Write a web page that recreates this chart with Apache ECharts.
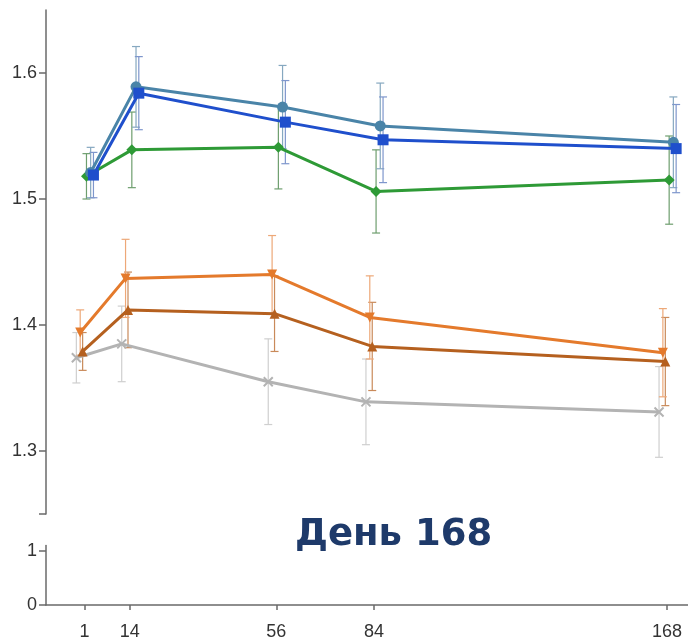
<!DOCTYPE html>
<html><head><meta charset="utf-8">
<script src="https://cdn.jsdelivr.net/npm/echarts@6/dist/echarts.min.js"></script>
<style>html,body{margin:0;padding:0;background:#fff}#c{width:688px;height:643px}</style>
</head><body><div id="c"></div>
<script>
// Days of measurement (x axis)
const days = [1, 14, 56, 84, 168];
const xTickLabels = [1, 14, 56, 84, 168];
const upperTickLabels = [1.3, 1.4, 1.5, 1.6];
const lowerTickLabels = [0, 1];
const titleText = 'День 168';

// Series means and error (±) values
const tealVals   = [1.521, 1.589, 1.573, 1.558, 1.545];
const tealErr    = [0.020, 0.032, 0.033, 0.034, 0.036];
const blueVals   = [1.519, 1.584, 1.561, 1.547, 1.540];
const blueErr    = [0.018, 0.029, 0.033, 0.034, 0.035];
const greenVals  = [1.518, 1.539, 1.541, 1.506, 1.515];
const greenErr   = [0.018, 0.030, 0.033, 0.033, 0.035];
const orangeVals = [1.394, 1.437, 1.440, 1.406, 1.378];
const orangeErr  = [0.018, 0.031, 0.031, 0.033, 0.035];
const brownVals  = [1.379, 1.412, 1.409, 1.383, 1.371];
const brownErr   = [0.015, 0.030, 0.030, 0.035, 0.035];
const grayVals   = [1.374, 1.385, 1.355, 1.339, 1.331];
const grayErr    = [0.020, 0.030, 0.034, 0.034, 0.036];

// horizontal dodge (in days) so overlapping groups are separated
const dodge = { gray: -2.3, orange: -1.2, brown: -0.5, green: 0.6, teal: 1.8, blue: 2.6 };

const groups = [
  { key: 'gray',   vals: grayVals,   err: grayErr,   color: '#b3b3b3', bar: '#cfcfcf', symbol: 'path://M0,0 L10,10 M10,0 L0,10 M0,0', size: 9 },
  { key: 'brown',  vals: brownVals,  err: brownErr,  color: '#b5601f', bar: '#c98a5a', symbol: 'triangle', size: 10 },
  { key: 'orange', vals: orangeVals, err: orangeErr, color: '#e47a2c', bar: '#eda878', symbol: 'path://M0,0 L10,0 L5,9 Z', size: 10 },
  { key: 'green',  vals: greenVals,  err: greenErr,  color: '#2e9a36', bar: '#6e9e6e', symbol: 'diamond', size: 11 },
  { key: 'teal',   vals: tealVals,   err: tealErr,   color: '#4a84a8', bar: '#86a8c0', symbol: 'circle', size: 11 },
  { key: 'blue',   vals: blueVals,   err: blueErr,   color: '#1f4fcc', bar: '#7e96cc', symbol: 'rect', size: 11 }
];

const chart = echarts.init(document.getElementById('c'), null, { renderer: 'canvas' });

const series = [];
groups.forEach(g => {
  const pts = days.map((d, i) => [d + dodge[g.key], g.vals[i], g.err[i]]);
  series.push({
    type: 'custom', xAxisIndex: 0, yAxisIndex: 0, z: 1, silent: true,
    data: pts,
    encode: { x: 0, y: 1 },
    renderItem: function (params, api) {
      const x = api.value(0), y = api.value(1), e = api.value(2);
      const hi = api.coord([x, y + e]);
      const lo = api.coord([x, y - e]);
      const w = 4;
      const st = { stroke: g.bar, lineWidth: 1.2 };
      return { type: 'group', children: [
        { type: 'line', shape: { x1: hi[0], y1: hi[1], x2: lo[0], y2: lo[1] }, style: st },
        { type: 'line', shape: { x1: hi[0] - w, y1: hi[1], x2: hi[0] + w, y2: hi[1] }, style: st },
        { type: 'line', shape: { x1: lo[0] - w, y1: lo[1], x2: lo[0] + w, y2: lo[1] }, style: st }
      ]};
    }
  });
  series.push({
    type: 'line', name: g.key, xAxisIndex: 0, yAxisIndex: 0, z: 3,
    data: pts.map(p => [p[0], p[1]]),
    symbol: g.symbol, symbolSize: g.size, showSymbol: true,
    lineStyle: { color: g.color, width: 3 },
    itemStyle: g.key === 'gray' ? { color: g.color, borderColor: g.color, borderWidth: 2 } : { color: g.color },
    animation: false
  });
});

const axisLineStyle = { color: '#6a6a6a', width: 1.5 };
const labelStyle = { color: '#333333', fontSize: 18, fontFamily: 'Liberation Sans, Arial, sans-serif' };

chart.setOption({
  animation: false,
  backgroundColor: '#ffffff',
  grid: [
    { left: 46, right: 0, top: 10, height: 504 },
    { left: 46, right: 0, top: 545.6, height: 59.4 }
  ],
  xAxis: [
    { gridIndex: 0, type: 'value', min: -10, max: 174, show: false },
    { gridIndex: 1, type: 'value', min: -10, max: 174,
      axisLine: { show: true, lineStyle: axisLineStyle, onZero: false },
      axisTick: { show: true, customValues: days, length: 5, inside: false, lineStyle: axisLineStyle },
      axisLabel: Object.assign({ customValues: xTickLabels, margin: 18 }, labelStyle),
      splitLine: { show: false } }
  ],
  yAxis: [
    { gridIndex: 0, type: 'value', min: 1.25, max: 1.65,
      axisLine: { show: true, lineStyle: axisLineStyle, onZero: false },
      axisTick: { show: true, customValues: [1.25].concat(upperTickLabels), length: 7, lineStyle: axisLineStyle },
      axisLabel: Object.assign({ customValues: upperTickLabels, margin: 9, formatter: v => Number(v).toFixed(1) }, labelStyle),
      splitLine: { show: false } },
    { gridIndex: 1, type: 'value', min: 0, max: 1.1,
      axisLine: { show: true, lineStyle: axisLineStyle, onZero: false },
      axisTick: { show: true, customValues: lowerTickLabels, length: 7, lineStyle: axisLineStyle },
      axisLabel: Object.assign({ customValues: lowerTickLabels, margin: 9, formatter: v => String(Math.round(v)) }, labelStyle),
      splitLine: { show: false } }
  ],
  graphic: [{
    type: 'text', left: 295, top: 517, z: 10,
    style: { text: titleText, fill: '#1e3a6a', font: 'bold 37px "DejaVu Sans", sans-serif' }
  }],
  series: series
});
</script></body></html>
